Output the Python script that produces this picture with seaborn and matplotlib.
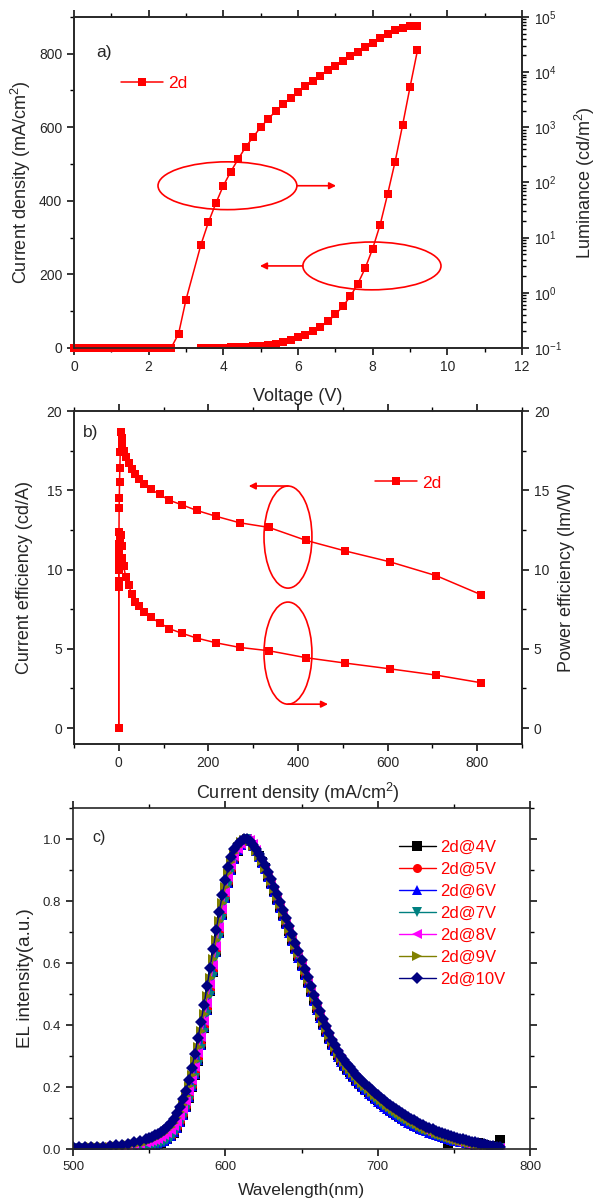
import matplotlib
matplotlib.use("Agg")
import matplotlib.pyplot as plt
import pandas as pd
import seaborn as sns
from matplotlib.patches import Ellipse
from matplotlib.ticker import MultipleLocator, LogLocator, NullFormatter, FormatStrFormatter

# ---- a) J-V-L data ----
volt_lum = [0.0, 0.2, 0.4, 0.6, 0.8, 1.0, 1.2, 1.4, 1.6, 1.8, 2.0, 2.2, 2.4, 2.6,
            2.8, 3.0, 3.4, 3.6, 3.8, 4.0, 4.2, 4.4, 4.6, 4.8, 5.0, 5.2, 5.4, 5.6,
            5.8, 6.0, 6.2, 6.4, 6.6, 6.8, 7.0, 7.2, 7.4, 7.6, 7.8, 8.0, 8.2, 8.4,
            8.6, 8.8, 9.0, 9.2]
luminance = [0.1, 0.1, 0.1, 0.1, 0.1, 0.1, 0.1, 0.1, 0.1, 0.1, 0.1, 0.1, 0.1, 0.1,
             0.18, 0.75, 7.45, 19, 42, 87.5, 157, 267, 440, 668, 1000, 1415, 1950,
             2610, 3400, 4370, 5540, 6920, 8630, 10800, 13100, 16100, 19600, 23500,
             28600, 34200, 42100, 49800, 57300, 64000, 68600, 68600]
volt_j = [3.4, 3.6, 3.8, 4.0, 4.2, 4.4, 4.6, 4.8, 5.0, 5.2, 5.4, 5.6, 5.8, 6.0,
          6.2, 6.4, 6.6, 6.8, 7.0, 7.2, 7.4, 7.6, 7.8, 8.0, 8.2, 8.4, 8.6, 8.8,
          9.0, 9.2]
current_density = [0.2, 0.4, 0.7, 1.1, 1.6, 2.3, 3.2, 4.4, 6.0, 8.0, 11.0, 15.6,
                   21.7, 29.5, 36, 46, 57, 72, 91, 113, 140, 174, 217, 270, 335,
                   418, 506, 605, 709, 809]

# ---- b) efficiencies vs current density ----
eff_j = [0, 0.05, 0.1, 0.2, 0.4, 0.7, 1.1, 1.6, 2.3, 3.2, 4.4, 6.0, 8.0, 11.0,
         15.6, 21.7, 29.5, 36, 46, 57, 72, 91, 113, 140, 174, 217, 270, 335,
         418, 506, 605, 709, 809]
current_eff = [0, 8.9, 10.2, 11.6, 12.4, 13.9, 14.5, 15.5, 16.4, 17.4, 18.7, 18.3,
               17.8, 17.5, 17.12, 16.7, 16.34, 16.03, 15.71, 15.39, 15.06, 14.74,
               14.37, 14.09, 13.73, 13.36, 12.95, 12.66, 11.84, 11.17, 10.49, 9.61,
               8.41]
power_eff = [0, 9.3, 10.0, 10.7, 10.9, 11.5, 11.4, 11.6, 11.7, 11.9, 12.2, 11.5,
             10.7, 10.2, 9.5, 9.0, 8.45, 7.97, 7.70, 7.32, 6.98, 6.64, 6.27, 5.99,
             5.68, 5.38, 5.09, 4.88, 4.44, 4.10, 3.74, 3.34, 2.86]

# ---- c) EL spectra (4 nm steps in the blue tail, 2 nm steps after 550 nm) ----
wavelength = list(range(500, 550, 4)) + list(range(550, 781, 2))
el_4v = [.002, .002, .002, .002, .002, .003, .003, .003, .004, .004, .005, .006, .008,
         .009, .011, .013, .016, .020, .025, .032, .041, .053, .068, .087, .110,
         .136, .166, .200, .240, .285, .335, .390, .448, .510, .572, .635, .697,
         .755, .810, .858, .900, .935, .962, .982, .995, 1.0, .995, .980, .962,
         .945, .926, .905, .882, .857, .832, .807, .781, .755, .729, .702, .675,
         .648, .621, .594, .566, .538, .510, .482, .454, .428, .403, .380, .358,
         .338, .319, .302, .286, .272, .259, .247, .235, .224, .213, .203, .193,
         .183, .174, .165, .157, .149, .141, .134, .127, .120, .113, .107, .101,
         .095, .089, .084, .079, .074, .069, .065, .061, .057, .053, .049, .046,
         .042, .036, .018, .032, .030, .028, .026, .024, .022, .020, .018, .017,
         .018, .016, .014, .011, .009, .007, .006, .029]
el_5v = [.002, .002, .002, .002, .003, .003, .003, .004, .004, .005, .006, .007, .009,
         .010, .012, .014, .017, .021, .026, .033, .043, .055, .070, .090, .113,
         .139, .169, .204, .244, .289, .339, .394, .452, .514, .576, .638, .700,
         .758, .812, .860, .902, .936, .963, .983, .995, 1.0, .994, .979, .961,
         .943, .925, .904, .881, .856, .831, .806, .780, .754, .728, .701, .674,
         .647, .620, .593, .565, .537, .509, .481, .453, .427, .402, .379, .357,
         .337, .318, .301, .285, .271, .258, .246, .234, .223, .212, .202, .192,
         .182, .173, .164, .156, .148, .140, .133, .126, .119, .112, .106, .100,
         .094, .088, .083, .078, .073, .068, .064, .060, .056, .052, .048, .045,
         .041, .038, .035, .032, .029, .027, .025, .023, .021, .019, .017, .015,
         .013, .011, .009, .008, .006, .005, .004, .003]
el_6v = [.003, .003, .003, .003, .003, .003, .004, .004, .005, .005, .006, .007, .009,
         .010, .012, .014, .017, .021, .026, .033, .042, .054, .069, .088, .111,
         .137, .167, .202, .242, .287, .337, .392, .450, .512, .574, .636, .698,
         .756, .811, .859, .901, .936, .963, .982, .995, 1.0, .994, .978, .960,
         .942, .923, .902, .879, .854, .829, .803, .777, .751, .725, .698, .671,
         .644, .617, .590, .562, .534, .506, .478, .450, .424, .399, .376, .354,
         .334, .315, .298, .282, .268, .255, .243, .231, .220, .209, .199, .189,
         .179, .170, .161, .153, .145, .137, .130, .123, .116, .109, .103, .097,
         .091, .085, .080, .075, .070, .065, .061, .057, .053, .049, .045, .042,
         .038, .035, .032, .029, .027, .025, .023, .021, .019, .017, .015, .013,
         .011, .010, .008, .007, .006, .005, .004, .003]
el_7v = [.003, .003, .003, .003, .003, .004, .004, .004, .005, .005, .006, .007, .008,
         .009, .011, .013, .015, .019, .023, .029, .037, .048, .062, .080, .101,
         .126, .155, .189, .228, .272, .321, .375, .432, .493, .556, .619, .682,
         .741, .798, .848, .892, .929, .958, .979, .993, 1.0, .995, .980, .962,
         .943, .924, .903, .880, .855, .830, .804, .778, .752, .726, .699, .672,
         .645, .618, .591, .563, .535, .507, .479, .451, .425, .400, .377, .355,
         .335, .316, .299, .283, .269, .256, .244, .232, .221, .210, .200, .190,
         .180, .171, .162, .154, .146, .138, .131, .124, .117, .110, .104, .098,
         .092, .086, .081, .076, .071, .066, .062, .058, .054, .050, .046, .043,
         .039, .036, .033, .030, .028, .026, .024, .022, .020, .018, .016, .014,
         .012, .010, .009, .007, .006, .005, .004, .003]
el_8v = [.003, .003, .003, .004, .004, .005, .006, .007, .008, .010, .012, .015, .019,
         .022, .025, .029, .033, .038, .044, .051, .061, .073, .088, .107, .129,
         .155, .186, .222, .263, .309, .360, .414, .471, .531, .592, .654, .715,
         .773, .828, .876, .915, .946, .969, .985, .995, 1.0, .996, .983, .966,
         .939, .923, .903, .881, .858, .834, .810, .785, .759, .733, .706, .680,
         .653, .626, .598, .570, .542, .514, .486, .458, .432, .407, .384, .362,
         .341, .322, .305, .289, .275, .262, .251, .239, .228, .217, .207, .197,
         .187, .178, .169, .161, .153, .145, .137, .130, .123, .116, .109, .103,
         .097, .091, .085, .080, .074, .069, .064, .059, .055, .051, .047, .043,
         .039, .036, .033, .030, .027, .024, .021, .019, .016, .014, .012, .010,
         .009, .008, .007, .006, .005, .004, .003, .003]
el_9v = [.004, .004, .004, .005, .005, .006, .007, .009, .011, .013, .016, .019, .024,
         .027, .031, .035, .040, .046, .052, .060, .071, .084, .100, .120, .143,
         .170, .202, .240, .283, .330, .382, .437, .494, .553, .614, .675, .735,
         .792, .845, .890, .927, .955, .975, .989, .997, 1.0, .994, .979, .962,
         .945, .928, .908, .886, .863, .839, .815, .790, .764, .738, .711, .685,
         .659, .632, .604, .576, .548, .520, .492, .464, .438, .413, .390, .368,
         .347, .328, .311, .295, .281, .268, .257, .245, .234, .223, .213, .203,
         .193, .184, .175, .167, .159, .151, .143, .136, .129, .122, .115, .109,
         .103, .097, .091, .086, .080, .075, .070, .065, .061, .057, .053, .049,
         .045, .042, .039, .036, .033, .030, .027, .025, .022, .020, .018, .016,
         .014, .012, .010, .008, .007, .005, .004, .003]
el_10v = [.005, .005, .006, .006, .007, .008, .010, .012, .014, .017, .021, .025, .031,
          .035, .039, .044, .049, .055, .062, .070, .083, .097, .115, .136, .160,
          .188, .222, .262, .307, .357, .410, .465, .525, .585, .645, .705, .765,
          .820, .868, .910, .943, .967, .983, .994, 1.0, .999, .993, .982, .967,
          .951, .935, .915, .893, .870, .846, .822, .797, .771, .745, .718, .692,
          .665, .638, .610, .582, .554, .526, .498, .470, .444, .419, .396, .374,
          .353, .334, .317, .301, .287, .274, .263, .251, .240, .229, .219, .209,
          .199, .190, .181, .173, .165, .157, .149, .142, .135, .128, .121, .115,
          .109, .103, .097, .092, .086, .081, .076, .071, .067, .063, .059, .055,
          .051, .048, .045, .042, .039, .036, .033, .031, .028, .026, .023, .021,
          .019, .017, .015, .013, .011, .009, .007, .006]
series_names = ["2d@4V", "2d@5V", "2d@6V", "2d@7V", "2d@8V", "2d@9V", "2d@10V"]
series_colors = ["#000000", "#FF0000", "#0000FF", "#008080", "#FF00FF", "#808000", "#000080"]
series_markers = ["s", "o", "^", "v", "<", ">", "D"]

sns.set_style("ticks")
plt.rcParams["font.family"] = ["Liberation Sans", "DejaVu Sans"]
plt.rcParams["mathtext.default"] = "regular"
plt.rcParams["axes.linewidth"] = 1.2

RED = "#FF0000"
fig = plt.figure(figsize=(5.95, 11.99), dpi=100)


def style_ticks(ax, size):
    ax.tick_params(which="major", length=5, width=1.1, labelsize=size, color="black")
    ax.tick_params(which="minor", length=3, width=1.0, color="black")


# ================= panel a =================
ax_a = fig.add_axes([0.1244, 0.7098, 0.7529, 0.2761])
ax_a2 = ax_a.twinx()
sns.lineplot(x=volt_j, y=current_density, ax=ax_a, color=RED, marker="s", markersize=5.5,
             markeredgewidth=0, linewidth=1.1, estimator=None, sort=False, label="2d")
sns.lineplot(x=volt_lum, y=luminance, ax=ax_a2, color=RED, marker="s", markersize=5.5,
             markeredgewidth=0, linewidth=1.1, estimator=None, sort=False, legend=False,
             clip_on=False)
ax_a.set_xlim(0, 12)
ax_a.set_ylim(0, 900)
ax_a2.set_yscale("log")
ax_a2.set_ylim(0.1, 1e5)
ax_a.xaxis.set_major_locator(MultipleLocator(2))
ax_a.xaxis.set_minor_locator(MultipleLocator(1))
ax_a.yaxis.set_major_locator(MultipleLocator(200))
ax_a.yaxis.set_minor_locator(MultipleLocator(100))
ax_a2.yaxis.set_major_locator(LogLocator(base=10, numticks=10))
ax_a2.yaxis.set_minor_locator(LogLocator(base=10, subs=range(2, 10), numticks=10))
ax_a2.yaxis.set_minor_formatter(NullFormatter())
ax_a.tick_params(axis="x", which="both", direction="out", top=True)
ax_a.set_xlabel("Voltage (V)", fontsize=13, labelpad=10)
ax_a.set_ylabel("Current density (mA/cm$^2$)", fontsize=13, labelpad=4)
ax_a2.set_ylabel("Luminance (cd/m$^2$)", fontsize=13, labelpad=8)
for ax in (ax_a, ax_a2):
    style_ticks(ax, 10)
ax_a.legend(loc="center left", bbox_to_anchor=(0.105, 0.80), frameon=False, fontsize=12.5,
            labelcolor=RED, handlelength=2.4, handletextpad=0.3, borderpad=0, borderaxespad=0)
ax_a.text(0.049, 0.893, "a)", transform=ax_a.transAxes, fontsize=12.5, va="center")
ax_a2.add_patch(Ellipse((4.11, 441), 3.72, 130, fill=False, ec=RED, lw=1.2,
                        transform=ax_a.transData))
ax_a2.add_patch(Ellipse((7.98, 223), 3.70, 130, fill=False, ec=RED, lw=1.2,
                        transform=ax_a.transData))
arrow = dict(arrowstyle="-|>", color=RED, lw=1.2, mutation_scale=10, shrinkA=0, shrinkB=0)
ax_a2.annotate("", xy=(7.02, 441), xytext=(5.97, 441), xycoords=ax_a.transData,
               textcoords=ax_a.transData, arrowprops=arrow)
ax_a2.annotate("", xy=(4.98, 223), xytext=(6.13, 223), xycoords=ax_a.transData,
               textcoords=ax_a.transData, arrowprops=arrow)

# ================= panel b =================
ax_b = fig.add_axes([0.1244, 0.3795, 0.7529, 0.2777])
ax_b2 = ax_b.twinx()
sns.lineplot(x=eff_j, y=current_eff, ax=ax_b, color=RED, marker="s", markersize=5.5,
             markeredgewidth=0, linewidth=1.1, estimator=None, sort=False, label="2d")
sns.lineplot(x=eff_j, y=power_eff, ax=ax_b2, color=RED, marker="s", markersize=5.5,
             markeredgewidth=0, linewidth=1.1, estimator=None, sort=False, legend=False)
ax_b.set_xlim(-100, 900)
for ax in (ax_b, ax_b2):
    ax.set_ylim(-1, 20)
    ax.yaxis.set_major_locator(MultipleLocator(5))
    ax.yaxis.set_minor_locator(MultipleLocator(2.5))
    style_ticks(ax, 10)
ax_b.xaxis.set_major_locator(MultipleLocator(200))
ax_b.xaxis.set_minor_locator(MultipleLocator(100))
ax_b.tick_params(axis="x", which="both", direction="out", top=True)
ax_b.set_xlabel("Current density (mA/cm$^2$)", fontsize=13, labelpad=8)
ax_b.set_ylabel("Current efficiency (cd/A)", fontsize=13, labelpad=10)
ax_b2.set_ylabel("Power efficiency (lm/W)", fontsize=13, labelpad=6)
ax_b.legend(loc="center left", bbox_to_anchor=(0.672, 0.784), frameon=False, fontsize=12.5,
            labelcolor=RED, handlelength=2.4, handletextpad=0.3, borderpad=0, borderaxespad=0)
ax_b.text(0.02, 0.934, "b)", transform=ax_b.transAxes, fontsize=12.5, va="center")
ax_b2.add_patch(Ellipse((377.6, 12.05), 107, 6.44, fill=False, ec=RED, lw=1.2,
                        transform=ax_b.transData))
ax_b2.add_patch(Ellipse((377.6, 4.73), 107, 6.44, fill=False, ec=RED, lw=1.2,
                        transform=ax_b.transData))
ax_b2.annotate("", xy=(290, 15.27), xytext=(377.6, 15.27), xycoords=ax_b.transData,
               textcoords=ax_b.transData, arrowprops=arrow)
ax_b2.annotate("", xy=(467, 1.51), xytext=(377.6, 1.51), xycoords=ax_b.transData,
               textcoords=ax_b.transData, arrowprops=arrow)

# ================= panel c =================
ax_c = fig.add_axes([0.1227, 0.0417, 0.7681, 0.2844])
spectra = [el_4v, el_5v, el_6v, el_7v, el_8v, el_9v, el_10v]
frames = [pd.DataFrame({"wl": wavelength, "el": vals, "series": name})
          for name, vals in zip(series_names, spectra)]
df_c = pd.concat(frames, ignore_index=True)
sns.lineplot(data=df_c, x="wl", y="el", hue="series", style="series", ax=ax_c,
             palette=dict(zip(series_names, series_colors)),
             markers=dict(zip(series_names, series_markers)), dashes=False,
             markersize=6.5, markeredgewidth=0, linewidth=1.0, estimator=None)
ax_c.set_xlim(500, 800)
ax_c.set_ylim(0, 1.1)
ax_c.xaxis.set_major_locator(MultipleLocator(100))
ax_c.xaxis.set_minor_locator(MultipleLocator(50))
ax_c.yaxis.set_major_locator(MultipleLocator(0.2))
ax_c.yaxis.set_minor_locator(MultipleLocator(0.1))
ax_c.yaxis.set_major_formatter(FormatStrFormatter("%.1f"))
style_ticks(ax_c, 9.5)
ax_c.tick_params(axis="x", which="both", direction="out", top=True)
ax_c.tick_params(axis="y", which="both", direction="out", right=True)
ax_c.set_xlabel("Wavelength(nm)", fontsize=12.5, labelpad=7)
ax_c.set_ylabel("EL intensity(a.u.)", fontsize=13.5, labelpad=6)
handles, labels = ax_c.get_legend_handles_labels()
ax_c.legend(handles, labels, loc="upper left", bbox_to_anchor=(0.713, 0.906), frameon=False,
            fontsize=12, labelcolor=RED, handlelength=2.2, handletextpad=0.3,
            labelspacing=0.42, borderpad=0, borderaxespad=0)
ax_c.text(0.043, 0.913, "c)", transform=ax_c.transAxes, fontsize=11.5, va="center")

fig.savefig("out.png", dpi=100)
